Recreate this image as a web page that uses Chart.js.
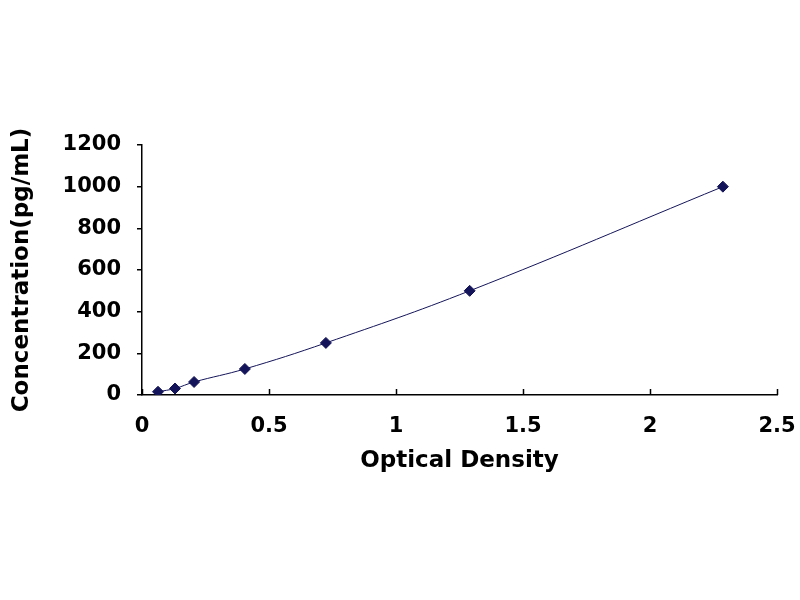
<!DOCTYPE html>
<html>
<head>
<meta charset="utf-8">
<script src="https://cdn.jsdelivr.net/npm/chart.js@4"></script>
<style>
  body { margin: 0; background: #fff; }
  #wrap { width: 800px; height: 600px; }
</style>
</head>
<body>
<div id="wrap"><canvas id="curve" width="800" height="600"></canvas></div>
<script>
// standard curve points
const odValues = [0.063, 0.13, 0.205, 0.405, 0.724, 1.29, 2.287];
const concValues = [15.6, 31.25, 62.5, 125, 250, 500, 1000];
const xTickValues = [0, 0.5, 1, 1.5, 2, 2.5];
const yTickValues = [0, 200, 400, 600, 800, 1000, 1200];

const navy = '#14145a';
const tickFont = { family: 'DejaVu Sans', size: 21, weight: 'bold' };
const titleFont = { family: 'DejaVu Sans', size: 23, weight: 'bold' };

const points = odValues.map(function(od, i) {
    return { x: od, y: concValues[i] };
});

// x ticks in the original point up into the plot
const innerTicks = {
    id: 'innerTicks',
    afterDraw: function(chart) {
        const ctx = chart.ctx;
        const xs = chart.scales.x;
        ctx.save();
        ctx.strokeStyle = '#000';
        ctx.lineWidth = 1.5;
        xTickValues.forEach(function(v) {
            const px = Math.round(xs.getPixelForValue(v)) + 0.5;
            ctx.beginPath();
            ctx.moveTo(px, xs.top);
            ctx.lineTo(px, xs.top - 6);
            ctx.stroke();
        });
        ctx.restore();
    }
};

new Chart(document.getElementById('curve'), {
    type: 'scatter',
    data: {
        datasets: [{
            data: points,
            showLine: true,
            tension: 0.4,
            borderColor: navy,
            borderWidth: 1,
            backgroundColor: navy,
            pointStyle: 'rectRot',
            pointRadius: 5.5,
            pointBorderColor: navy
        }]
    },
    options: {
        responsive: false,
        animation: false,
        layout: { padding: { left: 0, right: 23, top: 145, bottom: 125 } },
        plugins: { legend: { display: false }, tooltip: { enabled: false } },
        scales: {
            x: {
                min: 0,
                max: 2.5,
                afterBuildTicks: function(scale) {
                    scale.ticks = xTickValues.map(function(v) { return { value: v }; });
                },
                afterFit: function(scale) {
                    scale.height = 80;
                    scale.paddingLeft = 0;
                    scale.paddingRight = 0;
                },
                grid: { display: true, drawOnChartArea: false, drawTicks: false, color: '#000' },
                border: { display: true, color: '#000', width: 1.5 },
                ticks: {
                    color: '#000',
                    font: tickFont,
                    padding: 19,
                    maxRotation: 0,
                    callback: function(v) { return String(v); }
                },
                title: {
                    display: true,
                    text: 'Optical Density',
                    color: '#000',
                    font: titleFont,
                    padding: { top: 4, bottom: 0 }
                }
            },
            y: {
                min: 0,
                max: 1200,
                afterBuildTicks: function(scale) {
                    scale.ticks = yTickValues.map(function(v) { return { value: v }; });
                },
                afterFit: function(scale) { scale.width = 142; },
                grid: { display: true, drawOnChartArea: false, drawTicks: true, tickLength: 5, color: '#000', lineWidth: 1.5 },
                border: { display: true, color: '#000', width: 1.5 },
                ticks: {
                    color: '#000',
                    font: tickFont,
                    padding: 16,
                    callback: function(v) { return String(v); }
                },
                title: {
                    display: true,
                    text: 'Concentration(pg/mL)',
                    color: '#000',
                    font: titleFont,
                    padding: { top: 8, bottom: 0 }
                }
            }
        }
    },
    plugins: [innerTicks]
});
</script>
</body>
</html>
